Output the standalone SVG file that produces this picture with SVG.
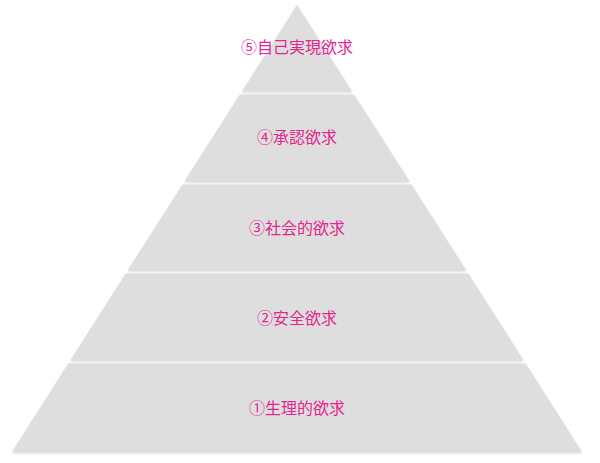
<svg xmlns="http://www.w3.org/2000/svg" width="600" height="463" viewBox="0 0 600 463">
  <style>
    .layer { fill: #dedede; filter: url(#shadow); }
    .label { font-family: "Noto Sans CJK JP", "Noto Sans", sans-serif; font-size: 16px; fill: #e3268f; text-anchor: middle; }
  </style>
  <defs>
    <filter id="shadow" x="-5%" y="-5%" width="110%" height="120%">
      <feDropShadow dx="0" dy="1.2" stdDeviation="0.8" flood-color="#999" flood-opacity="0.4"/>
    </filter>
  </defs>
  <rect width="600" height="463" fill="#ffffff"/>
  <g id="level5">
    <polygon class="layer" points="297,5 352,91.5 242,91.5"/>
    <text class="label" x="297" y="53">⑤自己実現欲求</text>
  </g>
  <g id="level4">
    <polygon class="layer" points="240,94.5 354,94.5 409.6,181.5 184.4,181.5"/>
    <text class="label" x="297" y="143">④承認欲求</text>
  </g>
  <g id="level3">
    <polygon class="layer" points="182.6,184.5 411.4,184.5 466.3,270.5 127.7,270.5"/>
    <text class="label" x="297" y="234">③社会的欲求</text>
  </g>
  <g id="level2">
    <polygon class="layer" points="125.8,273.5 468.2,273.5 523.7,360.5 70.3,360.5"/>
    <text class="label" x="297" y="324">②安全欲求</text>
  </g>
  <g id="level1">
    <polygon class="layer" points="68.4,363.5 525.6,363.5 582,452 12,452"/>
    <text class="label" x="297" y="414">①生理的欲求</text>
  </g>
  <g id="connectors"></g>
</svg>
